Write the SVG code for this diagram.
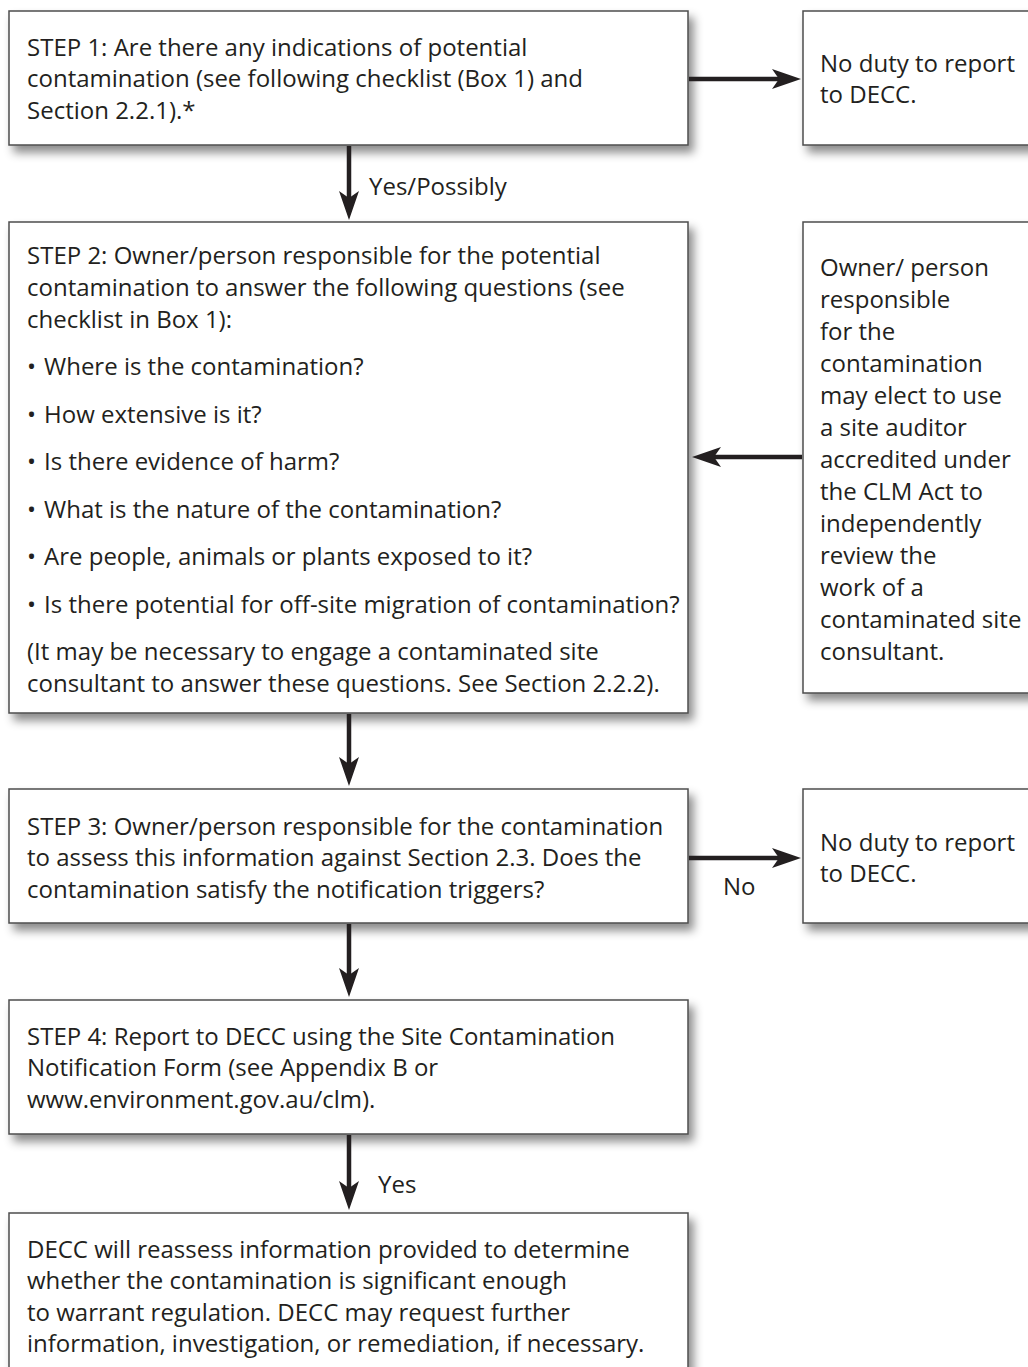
<svg xmlns="http://www.w3.org/2000/svg" width="1028" height="1367" viewBox="0 0 1028 1367">
<style>
.box{fill:#ffffff;stroke:#4d4d4d;stroke-width:1.5;filter:url(#sh)}
.t{font-family:"Open Sans","Noto Sans","Liberation Sans",sans-serif;font-size:24px;fill:#231f20}
.c{stroke:#231f20;stroke-width:4.5;fill:none;marker-end:url(#ah)}
</style>
<defs>
<filter id="sh" x="-5%" y="-10%" width="115%" height="130%">
<feDropShadow dx="5" dy="7" stdDeviation="5" flood-color="#000" flood-opacity="0.45"/>
</filter>
<marker id="ah" markerUnits="userSpaceOnUse" markerWidth="32" markerHeight="24" viewBox="-30 -12 32 24" refX="-20" refY="0" orient="auto">
<path d="M0,0 L-29,-10 L-22,0 L-29,10 Z" fill="#231f20"/>
</marker>
</defs>
<rect width="1028" height="1367" fill="#ffffff"/>

<g id="step1">
<rect class="box" x="9" y="11" width="679" height="134"/>
<text class="t"><tspan x="27" y="56">STEP 1: Are there any indications of potential</tspan><tspan x="27" y="87">contamination (see following checklist (Box 1) and</tspan><tspan x="27" y="119">Section 2.2.1).*</tspan></text>
</g>
<g id="noduty1">
<rect class="box" x="803" y="11" width="240" height="134"/>
<text class="t"><tspan x="820" y="72">No duty to report</tspan><tspan x="820" y="103">to DECC.</tspan></text>
</g>
<g id="step2">
<rect class="box" x="9" y="222" width="679" height="491"/>
<text class="t"><tspan x="27" y="264">STEP 2: Owner/person responsible for the potential</tspan><tspan x="27" y="296">contamination to answer the following questions (see</tspan><tspan x="27" y="328">checklist in Box 1):</tspan></text>
<text class="t"><tspan x="27" y="375">•</tspan><tspan x="44" y="375">Where is the contamination?</tspan></text>
<text class="t"><tspan x="27" y="423">•</tspan><tspan x="44" y="423">How extensive is it?</tspan></text>
<text class="t"><tspan x="27" y="470">•</tspan><tspan x="44" y="470">Is there evidence of harm?</tspan></text>
<text class="t"><tspan x="27" y="518">•</tspan><tspan x="44" y="518">What is the nature of the contamination?</tspan></text>
<text class="t"><tspan x="27" y="565">•</tspan><tspan x="44" y="565">Are people, animals or plants exposed to it?</tspan></text>
<text class="t"><tspan x="27" y="613">•</tspan><tspan x="44" y="613">Is there potential for off-site migration of contamination?</tspan></text>
<text class="t"><tspan x="27" y="660">(It may be necessary to engage a contaminated site</tspan><tspan x="27" y="692">consultant to answer these questions. See Section 2.2.2).</tspan></text>
</g>
<g id="auditor">
<rect class="box" x="803" y="222" width="240" height="471"/>
<text class="t"><tspan x="820" y="276">Owner/ person</tspan><tspan x="820" y="308">responsible</tspan><tspan x="820" y="340">for the</tspan><tspan x="820" y="372">contamination</tspan><tspan x="820" y="404">may elect to use</tspan><tspan x="820" y="436">a site auditor</tspan><tspan x="820" y="468">accredited under</tspan><tspan x="820" y="500">the CLM Act to</tspan><tspan x="820" y="532">independently</tspan><tspan x="820" y="564">review the</tspan><tspan x="820" y="596">work of a</tspan><tspan x="820" y="628">contaminated site</tspan><tspan x="820" y="660">consultant.</tspan></text>
</g>
<g id="step3">
<rect class="box" x="9" y="789" width="679" height="134"/>
<text class="t"><tspan x="27" y="835">STEP 3: Owner/person responsible for the contamination</tspan><tspan x="27" y="866">to assess this information against Section 2.3.  Does the</tspan><tspan x="27" y="898">contamination satisfy the notification triggers?</tspan></text>
</g>
<g id="noduty2">
<rect class="box" x="803" y="789" width="240" height="134"/>
<text class="t"><tspan x="820" y="851">No duty to report</tspan><tspan x="820" y="882">to DECC.</tspan></text>
</g>
<g id="step4">
<rect class="box" x="9" y="1000" width="679" height="134"/>
<text class="t"><tspan x="27" y="1045">STEP 4: Report to DECC using the Site Contamination</tspan><tspan x="27" y="1076">Notification Form (see Appendix B or</tspan><tspan x="27" y="1108">www.environment.gov.au/clm).</tspan></text>
</g>
<g id="decc">
<rect class="box" x="9" y="1213" width="679" height="180"/>
<text class="t"><tspan x="27" y="1258">DECC will reassess information provided to determine</tspan><tspan x="27" y="1289">whether the contamination is significant enough</tspan><tspan x="27" y="1321">to warrant regulation. DECC may request further</tspan><tspan x="27" y="1352">information, investigation, or remediation, if necessary.</tspan></text>
</g>

<g id="connectors">
<line class="c" x1="689" y1="79" x2="781" y2="79"/>
<line class="c" x1="349" y1="146" x2="349" y2="200"/>
<text class="t" x="369" y="195">Yes/Possibly</text>
<line class="c" x1="802" y1="457" x2="712" y2="457"/>
<line class="c" x1="349" y1="714" x2="349" y2="766"/>
<line class="c" x1="689" y1="858" x2="781" y2="858"/>
<text class="t" x="723" y="895">No</text>
<line class="c" x1="349" y1="924" x2="349" y2="977"/>
<line class="c" x1="349" y1="1135" x2="349" y2="1190"/>
<text class="t" x="378" y="1193">Yes</text>
</g>
</svg>
